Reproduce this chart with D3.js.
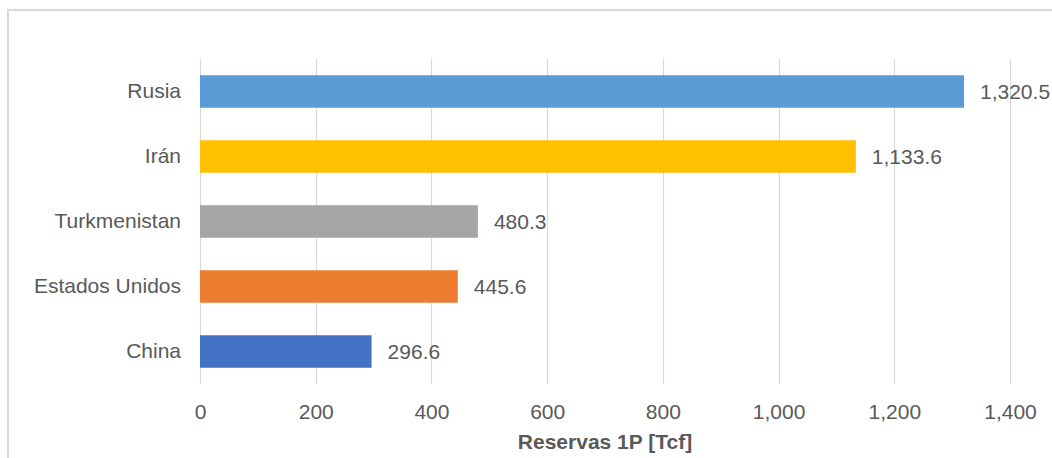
<!DOCTYPE html>
<html>
<head>
<meta charset="utf-8">
<script src="https://cdn.jsdelivr.net/npm/d3@7"></script>
<style>
  body { margin: 0; background: #fff; }
  svg text { font-family: "Liberation Sans", Arial, sans-serif; fill: #595959; }
</style>
</head>
<body>
<div id="chart"></div>
<script>
// data
var countries = ["Rusia", "Irán", "Turkmenistan", "Estados Unidos", "China"];
var reserves = [1320.5, 1133.6, 480.3, 445.6, 296.6];
var barColors = ["#5B9BD5", "#FFC000", "#A5A5A5", "#ED7D31", "#4472C4"];
var xTicks = [0, 200, 400, 600, 800, 1000, 1200, 1400];
var xTitle = "Reservas 1P [Tcf]";

var svgWidth = 1052;
var svgHeight = 458;
var margin = { top: 59, right: 42, bottom: 74, left: 200 };
var width = svgWidth - margin.left - margin.right;
var height = svgHeight - margin.top - margin.bottom;

var svg = d3.select("#chart")
    .append("svg")
    .attr("width", svgWidth)
    .attr("height", svgHeight);

// outer chart border (runs off right and bottom edges)
svg.append("rect")
    .attr("x", 8)
    .attr("y", 10)
    .attr("width", svgWidth + 10)
    .attr("height", svgHeight + 10)
    .attr("fill", "none")
    .attr("stroke", "#D9D9D9")
    .attr("stroke-width", 2);

var chartGroup = svg.append("g")
    .attr("transform", `translate(${margin.left}, ${margin.top})`);

var data = countries.map((c, i) => ({ name: c, value: reserves[i], color: barColors[i] }));

var xScale = d3.scaleLinear()
    .domain([0, 1400])
    .range([0, width]);

var yScale = d3.scaleBand()
    .domain(countries)
    .range([0, height])
    .paddingInner(0.5)
    .paddingOuter(0.25);

// vertical gridlines
chartGroup.selectAll(".grid")
    .data(xTicks)
    .enter()
    .append("line")
    .attr("x1", d => Math.round(xScale(d)) + 0.5)
    .attr("x2", d => Math.round(xScale(d)) + 0.5)
    .attr("y1", 0)
    .attr("y2", height)
    .attr("stroke", "#D9D9D9")
    .attr("stroke-width", 1.2);

// x axis labels
var xAxis = d3.axisBottom(xScale)
    .tickValues(xTicks)
    .tickFormat(d3.format(","))
    .tickSize(0)
    .tickPadding(20);

var xg = chartGroup.append("g")
    .attr("transform", `translate(0, ${height})`)
    .call(xAxis);
xg.select(".domain").remove();
xg.selectAll("text")
    .style("font-size", "21px")
    .style("font-family", "'Liberation Sans', Arial, sans-serif")
    .attr("fill", "#595959");

// category labels
var yAxis = d3.axisLeft(yScale)
    .tickSize(0)
    .tickPadding(19);

var yg = chartGroup.append("g").call(yAxis);
yg.select(".domain").remove();
yg.selectAll("text")
    .style("font-size", "21px")
    .style("font-family", "'Liberation Sans', Arial, sans-serif")
    .attr("fill", "#595959");

// bars
chartGroup.selectAll(".bar")
    .data(data)
    .enter()
    .append("rect")
    .attr("x", xScale(0))
    .attr("y", d => yScale(d.name))
    .attr("width", d => xScale(d.value) - xScale(0))
    .attr("height", yScale.bandwidth())
    .attr("fill", d => d.color);

// value labels
chartGroup.selectAll(".val")
    .data(data)
    .enter()
    .append("text")
    .attr("x", d => xScale(d.value) + 16)
    .attr("y", d => yScale(d.name) + yScale.bandwidth() / 2)
    .attr("dy", "0.35em")
    .style("font-size", "21px")
    .text(d => d3.format(",.1f")(d.value));

// axis title
chartGroup.append("text")
    .attr("x", width / 2)
    .attr("y", height + 65)
    .attr("text-anchor", "middle")
    .style("font-size", "21px")
    .style("font-weight", "bold")
    .text(xTitle);
</script>
</body>
</html>
